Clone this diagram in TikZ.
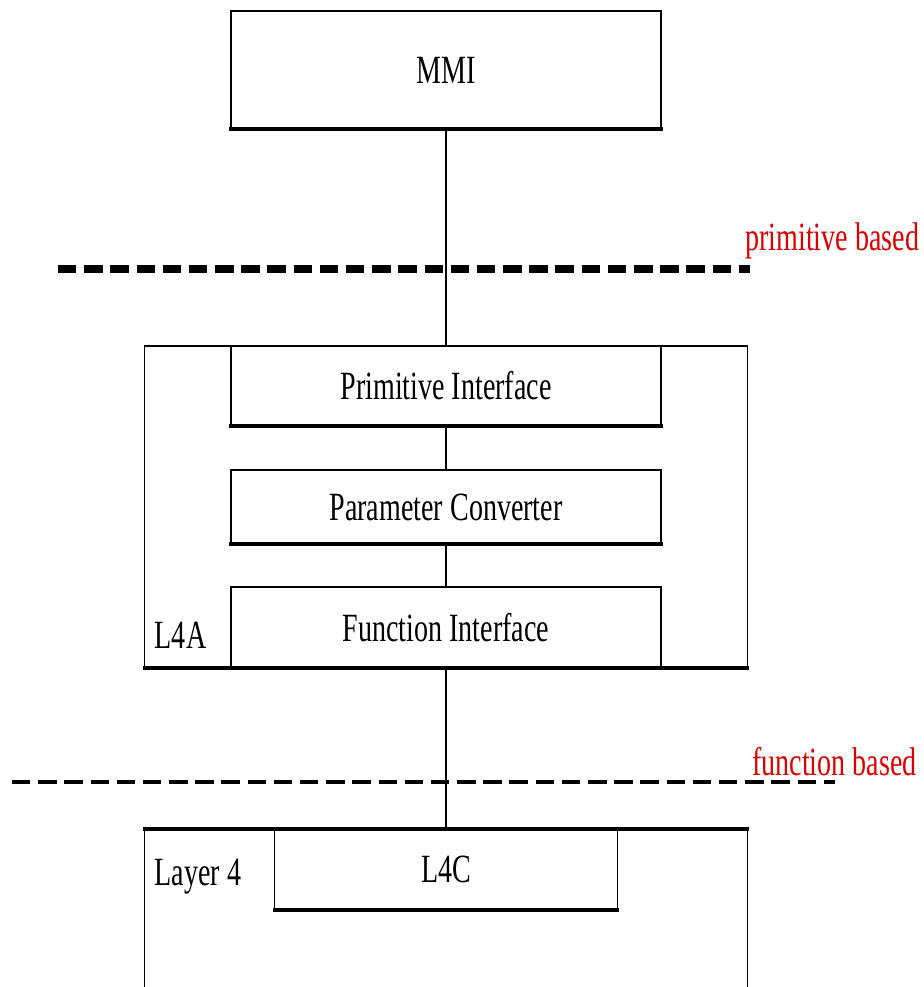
\documentclass[tikz,border=0pt]{standalone}
\usepackage{fontspec}
\setmainfont{Liberation Serif}[FakeStretch=0.7]
\usepackage{xcolor}
\usetikzlibrary{positioning,calc}

\begin{document}
\begin{tikzpicture}[
    block/.style={rectangle, draw=black, line width=0.8pt, fill=white, outer sep=0pt, inner sep=0pt, align=center, minimum width=8.6cm, font=\fontsize{22.8}{27}\selectfont},
    frame/.style={rectangle, draw=black, line width=0.8pt, outer sep=0pt, inner sep=0pt, minimum width=12.06cm},
    tag/.style={anchor=base west, inner sep=0pt, font=\fontsize{22.8}{27}\selectfont},
    side/.style={anchor=base west, inner sep=0pt, text=red!85!black, font=\fontsize{22.8}{27}\selectfont},
    edge/.style={line width=2.2pt, line cap=rect},
    link/.style={line width=1.6pt},
    sep/.style={line width=4pt, dash pattern=on 10.5pt off 4.4pt}
]
    \useasboundingbox (0,0) rectangle (18.46,-19.74);

    % top box
    \node [block, minimum height=2.36cm] (mmi) at (8.92,-1.40) {MMI};

    % L4A with its three parts
    \node [frame, minimum height=6.44cm] (l4a) at (8.92,-10.14) {};
    \node [block, minimum height=1.6cm, below=0pt of l4a.north] (prim) {Primitive Interface};
    \node [block, minimum height=1.48cm, below=0.88cm of prim] (conv) {Parameter Converter};
    \node [block, minimum height=1.62cm, above=0pt of l4a.south] (func) {Function Interface};
    \node [tag] (l4aname) at ($(l4a.south west)+(0.2,0.4)$) {L4A};

    % layer 4, runs off the bottom
    \node [frame, minimum height=3.6cm, anchor=north] (layer4) at (8.92,-16.58) {};
    \node [block, minimum width=6.86cm, minimum height=1.62cm, below=0pt of layer4.north] (l4c) {L4C};
    \node [tag] (layer4name) at ($(layer4.north west)+(0.2,-1.12)$) {Layer 4};

    % heavy edges
    \foreach \b in {mmi,prim,conv,func,l4a,l4c}
        \draw [edge] (\b.south west) -- (\b.south east);
    \draw [edge] (layer4.north west) -- (layer4.north east);

    % connectors
    \draw [link] (mmi.south) -- (prim.north);
    \draw [link] (prim.south) -- (conv.north);
    \draw [link] (conv.south) -- (func.north);
    \draw [link] (func.south) -- (layer4.north);

    % interface borders
    \coordinate (pa) at (1.16,-5.38);
    \coordinate (pb) at (15.0,-5.38);
    \draw [sep] (pa) -- (pb);
    \node [side] (primlabel) at (14.9,-5.0) {primitive based};

    \coordinate (fa) at (0.24,-15.64);
    \coordinate (fb) at (16.7,-15.64);
    \draw [sep, line width=2.8pt] (fa) -- (fb);
    \node [side] (funclabel) at (15.04,-15.5) {function based};
\end{tikzpicture}
\end{document}
